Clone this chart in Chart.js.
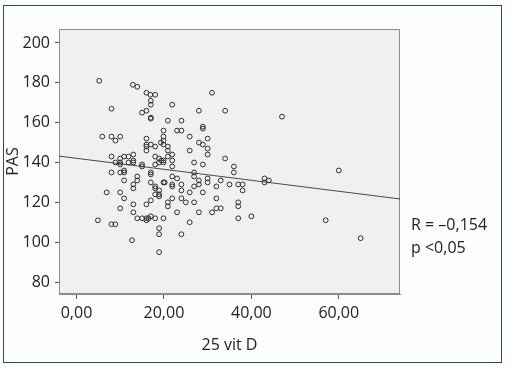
<!DOCTYPE html>
<html lang="es">
<head>
    <meta charset="UTF-8" />
    <title>PAS vs 25 vit D</title>
    <script src="https://cdn.jsdelivr.net/npm/chart.js"></script>
    <style>
        body {
            margin: 0;
            padding: 0;
            background: #ffffff;
            font-family: 'Open Sans', sans-serif;
        }
        .frame {
            position: absolute;
            left: 3px;
            top: 5px;
            width: 497px;
            height: 356px;
            border: 1.5px solid #24505e;
            background: #fdfdfb;
        }
        .wrap {
            position: absolute;
            left: 0;
            top: 0;
            width: 513px;
            height: 370px;
        }
        .stats {
            position: absolute;
            left: 411px;
            top: 213px;
            font-size: 16px;
            line-height: 23px;
            color: #222;
        }
    </style>
</head>
<body>
    <div class="frame"></div>
    <div class="wrap">
        <canvas id="scatter" width="513" height="370"></canvas>
    </div>
    <div class="stats">R = –0,154<br>p &lt;0,05</div>

    <script>
        // 25 vit D (x) and PAS (y)
        const vitD = [
            5.2, 12.9, 13.9, 16, 16.9, 18, 17, 17, 21.9, 31,
            8, 16, 15, 28, 34, 47, 17, 17, 20.9, 24,
            19.9, 23, 24, 28.9, 28.9, 5.9, 8, 10, 8.9, 25.9,
            30, 16, 19.9, 28, 28.9, 19.9, 19.9, 19.3, 30, 30,
            25.9, 16, 17, 18, 16, 20.9, 20.9, 21.9, 34, 26.9,
            28.9, 36, 36, 26.9, 26.9, 21.9, 23, 30, 30, 32,
            33, 35, 37, 38, 38, 43, 43, 44, 60, 28,
            28, 26.9, 25.9, 28.9, 24, 24, 21.9, 21.9, 19.9, 20.2,
            24, 25, 21.9, 20.9, 20.9, 26.9, 32, 37, 37, 23,
            28, 31, 32, 33, 37, 40, 57, 65, 25.9, 24,
            19.9, 18.9, 18.9, 18.9, 12.7, 4.9, 8, 8.9, 10, 13,
            13, 16, 17, 10.9, 6.9, 10, 13.9, 15, 16, 17,
            18, 16, 16.5, 13, 13, 10.9, 13.9, 13.9, 17, 18,
            18, 18.9, 18.9, 18.9, 18, 8, 10, 10.9, 10.9, 17,
            17, 8, 8.9, 10, 10, 10, 10.9, 11.9, 11.9, 13,
            13, 13, 15, 15, 18, 18, 18.9, 18.9, 19.9, 19.9,
            19.4, 21.9, 21.9, 20.9, 16
        ];
        const pas = [
            181, 179, 178, 175, 174, 174, 171, 169, 169, 175,
            167, 166, 165, 166, 166, 163, 162, 162.5, 161, 161,
            156, 156, 156, 158, 157, 153, 153, 153, 151, 153,
            152, 152, 153, 150, 149, 151, 149, 150, 147, 144,
            146, 148, 149, 148, 149, 148, 146, 144, 142, 140,
            139, 138, 135, 135, 133, 133, 132, 132, 130, 128,
            131, 129, 129, 129, 126, 132, 130, 131, 136, 131,
            129, 128, 125, 125, 129, 126, 129, 128, 130, 130,
            122, 120, 122, 120, 118, 120, 122, 120, 118, 115,
            115, 115, 117, 117, 112, 113, 111, 102, 110, 104,
            112, 107, 104, 95, 101, 111, 109, 109, 117, 115,
            119, 119, 121, 122, 125, 125, 112, 112, 112, 113,
            112, 111, 112, 127, 129, 131, 131, 133, 130, 128,
            127, 126, 124, 123, 124, 135, 135, 136, 135, 135,
            134, 143, 140, 142, 139, 140, 143, 143, 140, 144,
            141, 140, 139, 138, 139, 143, 142, 140, 141, 140,
            141, 141, 138, 143, 146
        ];

        // fit line endpoints at the axis edges
        const fitX = [-4, 74];
        const fitY = [143.2, 121.7];

        const xTicks = [0, 20, 40, 60];
        const yTicks = [80, 100, 120, 140, 160, 180, 200];

        const points = vitD.map((x, i) => ({ x: x, y: pas[i] }));
        const fitLine = fitX.map((x, i) => ({ x: x, y: fitY[i] }));

        // grey plot area with a frame around it
        const plotBox = {
            id: 'plotBox',
            beforeDatasetsDraw(chart) {
                const a = chart.chartArea;
                const c = chart.ctx;
                c.save();
                c.fillStyle = '#f0f0f0';
                c.fillRect(a.left, a.top, a.right - a.left, a.bottom - a.top);
                c.strokeStyle = '#8c8c8c';
                c.lineWidth = 1;
                c.strokeRect(a.left + 0.5, a.top + 0.5, a.right - a.left - 1, a.bottom - a.top - 1);
                c.restore();
            }
        };

        const fontTick = { family: 'Open Sans', size: 16 };

        new Chart(document.getElementById('scatter'), {
            type: 'scatter',
            data: {
                datasets: [
                    {
                        data: points,
                        pointRadius: 2.4,
                        pointBorderWidth: 1,
                        pointBorderColor: '#2e2e2e',
                        pointBackgroundColor: 'rgba(0,0,0,0)'
                    },
                    {
                        type: 'line',
                        data: fitLine,
                        borderColor: '#4a4a4a',
                        borderWidth: 1,
                        pointRadius: 0,
                        fill: false
                    }
                ]
            },
            options: {
                responsive: false,
                animation: false,
                layout: { padding: { left: 0, top: 29, right: 113, bottom: 0 } },
                plugins: {
                    legend: { display: false },
                    tooltip: { enabled: false }
                },
                scales: {
                    x: {
                        type: 'linear',
                        min: -4,
                        max: 74,
                        afterBuildTicks: (axis) => { axis.ticks = xTicks.map(v => ({ value: v })); },
                        afterFit: (axis) => { axis.height = 76; },
                        grid: { drawOnChartArea: false, drawTicks: true, tickLength: 5, color: '#555' },
                        border: { display: true, color: '#8c8c8c' },
                        ticks: {
                            font: fontTick,
                            color: '#222',
                            padding: 5,
                            maxRotation: 0,
                            callback: (v) => v.toFixed(2).replace('.', ',')
                        },
                        title: {
                            display: true,
                            text: '25 vit D',
                            font: fontTick,
                            color: '#222',
                            padding: { top: 4, bottom: 15 }
                        }
                    },
                    y: {
                        min: 74,
                        max: 207,
                        afterBuildTicks: (axis) => { axis.ticks = yTicks.map(v => ({ value: v })); },
                        afterFit: (axis) => { axis.width = 59; },
                        grid: { drawOnChartArea: false, drawTicks: true, tickLength: 4, color: '#555' },
                        border: { display: true, color: '#8c8c8c' },
                        ticks: {
                            font: fontTick,
                            color: '#222',
                            padding: 5,
                            callback: (v) => String(v)
                        },
                        title: {
                            display: true,
                            text: 'PAS',
                            font: fontTick,
                            color: '#222',
                            padding: { top: 4, bottom: 0 }
                        }
                    }
                }
            },
            plugins: [plotBox]
        });
    </script>
</body>
</html>
